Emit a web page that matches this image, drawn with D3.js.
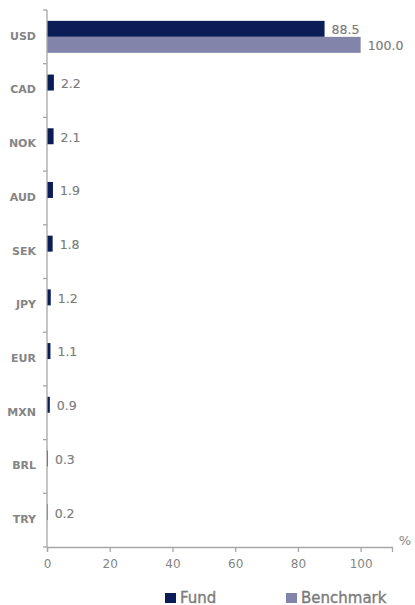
<!DOCTYPE html>
<html>
<head>
<meta charset="utf-8">
<script src="https://cdn.jsdelivr.net/npm/d3@7"></script>
<style>
  html, body { margin: 0; padding: 0; background: #fff; }
  svg text { font-family: "DejaVu Sans", sans-serif; }
</style>
</head>
<body>
<svg id="chart" width="415" height="605"></svg>
<script>
// Currency exposure, in percent
const currencies = ["USD", "CAD", "NOK", "AUD", "SEK", "JPY", "EUR", "MXN", "BRL", "TRY"];
const fundValues = [88.5, 2.2, 2.1, 1.9, 1.8, 1.2, 1.1, 0.9, 0.3, 0.2];
const benchmarkValues = [100.0, 0, 0, 0, 0, 0, 0, 0, 0, 0];
const seriesNames = ["Fund", "Benchmark"];
const seriesColors = ["#0b1d57", "#8284aa"];
const xTicks = [0, 20, 40, 60, 80, 100];

const rows = currencies.map((c, i) => ({
  currency: c,
  values: [fundValues[i], benchmarkValues[i]]
}));

const svg = d3.select("#chart");
const axisColor = "#a6a6a6";
const textColor = "#7b7b7b";

const x = d3.scaleLinear().domain([0, 110]).range([47, 392]);
const y = d3.scaleBand().domain(currencies).range([10, 547]).padding(0);
const ySub = d3.scaleBand().domain(seriesNames)
  .range([0, y.bandwidth()]).paddingInner(0).paddingOuter(0.68);

// Bars
const groups = svg.append("g").selectAll("g")
  .data(rows).join("g")
  .attr("transform", d => `translate(0,${y(d.currency)})`);

groups.selectAll("rect")
  .data(d => d.values.map((v, k) => ({ v, k })).filter(e => e.v > 0))
  .join("rect")
  .attr("x", x(0))
  .attr("y", e => ySub(seriesNames[e.k]))
  .attr("width", e => x(e.v) - x(0))
  .attr("height", ySub.bandwidth())
  .attr("fill", e => seriesColors[e.k]);

// Value labels
groups.selectAll("text.val")
  .data(d => d.values.map((v, k) => ({ v, k })).filter(e => e.v > 0))
  .join("text")
  .attr("class", "val")
  .attr("x", e => x(e.v) + 7)
  .attr("y", e => ySub(seriesNames[e.k]) + ySub.bandwidth() / 2 + 1)
  .attr("dy", "0.35em")
  .attr("font-size", 12.5)
  .attr("fill", textColor)
  .attr("stroke", textColor)
  .attr("stroke-width", 0.15)
  .text(e => e.v.toFixed(1));

// Category axis: line with ticks at band boundaries
const yAxisG = svg.append("g");
yAxisG.append("line")
  .attr("x1", x(0)).attr("x2", x(0))
  .attr("y1", y.range()[0]).attr("y2", y.range()[1])
  .attr("stroke", axisColor).attr("stroke-width", 1.3);
const boundaries = currencies.map(c => y(c)).concat([y.range()[1]]);
yAxisG.selectAll("line.tk").data(boundaries).join("line")
  .attr("class", "tk")
  .attr("x1", x(0) - 4).attr("x2", x(0))
  .attr("y1", d => d).attr("y2", d => d)
  .attr("stroke", axisColor).attr("stroke-width", 1.3);
yAxisG.selectAll("text").data(currencies).join("text")
  .attr("x", 36)
  .attr("y", d => y(d) + y.bandwidth() / 2 - 1)
  .attr("dy", "0.35em")
  .attr("text-anchor", "end")
  .attr("font-family", "Liberation Sans, Arial, sans-serif")
  .attr("font-size", 11)
  .attr("font-weight", "bold")
  .attr("fill", "#858585")
  .text(d => d);

// Value axis
const xAxis = d3.axisBottom(x).tickValues(xTicks).tickSize(5).tickPadding(7)
  .tickFormat(d3.format("d"));
const xAxisG = svg.append("g")
  .attr("transform", `translate(0,${y.range()[1]})`)
  .call(xAxis);
xAxisG.select(".domain").attr("stroke", axisColor).attr("stroke-width", 1.3);
xAxisG.selectAll(".tick line").attr("stroke", axisColor).attr("stroke-width", 1.3);
xAxisG.selectAll(".tick text")
  .attr("font-family", "DejaVu Sans, sans-serif")
  .attr("font-size", 12)
  .attr("fill", "#858585");

svg.append("text")
  .attr("x", 405).attr("y", y.range()[1] - 2)
  .attr("text-anchor", "middle")
  .attr("font-size", 13)
  .attr("fill", "#858585")
  .text("%");

// Legend
const legendX = [165, 286];
const legend = svg.append("g").selectAll("g")
  .data(seriesNames).join("g")
  .attr("transform", (d, i) => `translate(${legendX[i]},593)`);
legend.append("rect")
  .attr("width", 11).attr("height", 10)
  .attr("fill", (d, i) => seriesColors[i]);
legend.append("text")
  .attr("x", 15).attr("y", 10)
  .attr("font-family", "Liberation Sans, Arial, sans-serif")
  .attr("font-size", 15)
  .attr("fill", textColor)
  .attr("stroke", textColor)
  .attr("stroke-width", 0.35)
  .text(d => d);
</script>
</body>
</html>
